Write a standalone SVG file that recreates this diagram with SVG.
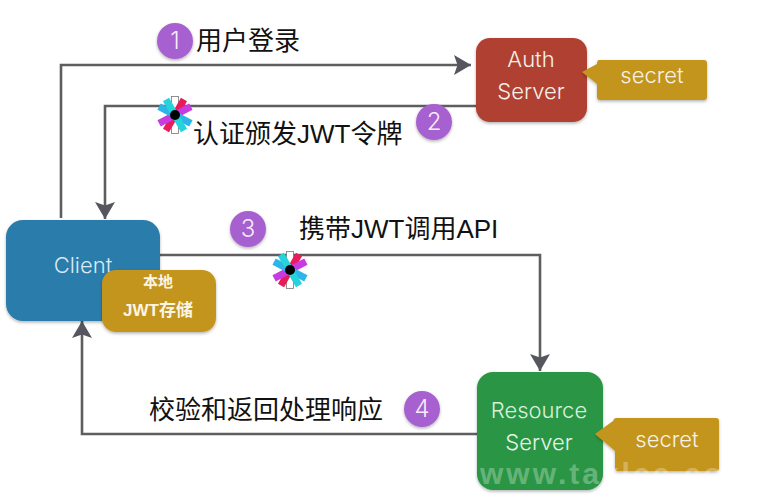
<svg xmlns="http://www.w3.org/2000/svg" width="765" height="500" viewBox="0 0 765 500">
<style>
text{font-family:"Liberation Sans","Noto Sans CJK SC",sans-serif}
.lbl{font-size:26px;fill:#111}
.w{font-family:Inter,"Liberation Sans",sans-serif;fill:#f6f1e6;text-anchor:middle;font-size:22px;font-weight:300}
.n{fill:#fff;font-size:24px;text-anchor:middle;font-family:Inter,"Liberation Sans",sans-serif;font-weight:300;fill-opacity:.9}
.c{fill:none;stroke:#5e5e62;stroke-width:2.600}
.b{fill:#a761cf;filter:url(#s)}
.bx{filter:url(#s)}
</style>
<defs>
<filter id="s" x="-15%" y="-15%" width="130%" height="135%"><feDropShadow dx="0" dy="1.500" stdDeviation="1.500" flood-color="#000" flood-opacity=".3"/></filter>
<marker id="a" markerUnits="userSpaceOnUse" markerWidth="22" markerHeight="22" refX="17" refY="11" orient="auto"><path d="M0 1 17 11 0 21 3.500 11Z" fill="#55565e"/></marker>
<g id="jwt">
<rect x="-3.500" y="-18.500" width="7" height="37" fill="#fff" stroke="#777" stroke-width=".8"/>
<rect x="-3.500" y="-18" width="7" height="36" fill="#e81c5a" transform="rotate(30)"/>
<rect x="-3.500" y="-18" width="7" height="36" fill="#c73be0" transform="rotate(62)"/>
<rect x="-3.500" y="-18" width="7" height="36" fill="#2bb5e8" transform="rotate(-62)"/>
<rect x="-3.500" y="-18" width="7" height="36" fill="#25d3dc" transform="rotate(-30)"/>
<circle r="5" fill="#000"/>
</g>
</defs>
<g id="connectors">
<path class="c" d="M61 218V65H471" marker-end="url(#a)"/>
<path class="c" d="M476 106H105V219" marker-end="url(#a)"/>
<path class="c" d="M156 255H540V371" marker-end="url(#a)"/>
<path class="c" d="M478 434H82V321" marker-end="url(#a)"/>
</g>
<g id="client"><rect class="bx" x="6" y="220" width="154" height="101" rx="17" fill="#2a7bab"/><text x="83" y="273" class="w" style="fill:#dbeaf3">Client</text></g>
<g id="jwt-store"><rect class="bx" x="102" y="270" width="114" height="62" rx="14" fill="#c4951f"/>
<text x="158" y="287" text-anchor="middle" font-size="15" font-weight="700" fill="#fbf5e5">本地</text>
<text x="158" y="316" text-anchor="middle" font-size="17" font-weight="700" fill="#fbf5e5">JWT存储</text></g>
<g id="auth-server"><rect class="bx" x="476" y="38" width="111" height="84" rx="14" fill="#b03f30"/>
<text x="531" y="67" class="w">Auth</text><text x="531" y="99" class="w">Server</text></g>
<g id="auth-secret"><path class="bx" d="M599 60H704Q707 60 707 63V97Q707 100 704 100H600Q597 100 597 97V84L582 72 597 64Q597 60 599 60Z" fill="#c4951f"/><text x="652" y="83" class="w">secret</text></g>
<g id="resource-server"><rect class="bx" x="477" y="372" width="126" height="118" rx="16" fill="#2c9645"/>
<text x="539" y="418" class="w" style="fill:#d9f0dc">Resource</text><text x="539" y="450" class="w" style="fill:#e4f4e6">Server</text></g>
<g id="resource-secret"><path class="bx" d="M616 418H716Q719 418 719 421V468Q719 471 716 471H618Q615 471 615 468V451L595 434 613 421Q614 418 616 418Z" fill="#c4951f"/><text x="667" y="447" class="w">secret</text></g>
<g id="step-1"><circle class="b" cx="175" cy="41" r="18"/><text x="175" y="49" class="n">1</text></g>
<text class="lbl" x="196" y="50">用户登录</text>
<g id="step-2"><circle class="b" cx="434" cy="122" r="18"/><text x="434" y="130" class="n">2</text></g>
<text class="lbl" x="193" y="143">认证颁发JWT令牌</text>
<g id="step-3"><circle class="b" cx="248" cy="229" r="18"/><text x="248" y="237" class="n">3</text></g>
<text class="lbl" x="299" y="238">携带JWT调用API</text>
<g id="step-4"><circle class="b" cx="422" cy="409" r="18"/><text x="422" y="417" class="n">4</text></g>
<text class="lbl" x="149" y="419">校验和返回处理响应</text>
<use href="#jwt" x="175" y="115"/>
<use href="#jwt" x="290" y="270"/>
<text x="480" y="484" font-size="30" font-weight="700" fill="#fff" fill-opacity=".3" letter-spacing="3">www.taklcc.co</text>
</svg>
